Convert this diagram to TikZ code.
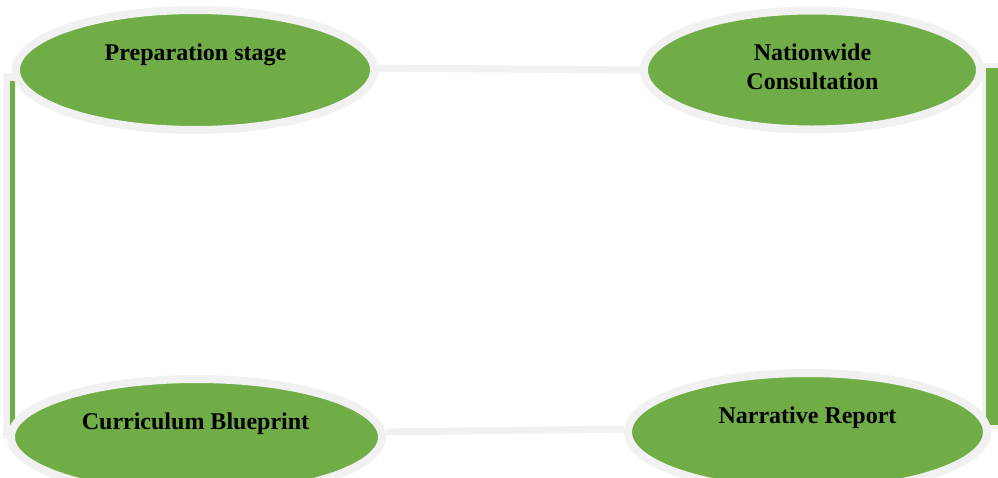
\documentclass[tikz,border=0pt]{standalone}
\usepackage{fontspec}
\setmainfont{Liberation Serif}
\usetikzlibrary{shapes.geometric}
\definecolor{offgreen}{HTML}{70AD47}
\definecolor{rimgray}{HTML}{F1F1F1}
\pgfdeclarelayer{bg}
\pgfsetlayers{bg,main}
\tikzset{
  stage/.style={ellipse, draw=rimgray, line width=8pt, fill=offgreen, inner sep=0pt},
  lbl/.style={anchor=base, font=\bfseries\fontsize{24}{29}\selectfont, text=black, align=center},
  link/.style={draw=rimgray, line width=7pt}
}
\begin{document}
\begin{tikzpicture}[x=1pt, y=-1pt]
\clip (0,0) rectangle (998,477);
% ellipses
\node[stage, minimum width=358pt, minimum height=120pt] (tl) at (195,70) {};
\node[stage, minimum width=336pt, minimum height=119pt] (tr) at (812,70) {};
\node[stage, minimum width=371pt, minimum height=116pt] (bl) at (196.5,437) {};
\node[stage, minimum width=359pt, minimum height=118pt] (br) at (807.5,432) {};
% background, side bars and connectors, behind the ellipses
\begin{pgfonlayer}{bg}
\fill[white] (0,0) rectangle (998,477);
\fill[rimgray] (3,73) rectangle (16,439);
\fill[offgreen] (10,81) rectangle (15,430);
\fill[rimgray] (982,63) rectangle (1005,429);
\fill[offgreen] (985.5,68) rectangle (1005,425);
\path[link] ([yshift=2pt]tl.east) -- (tr.west);
\path[link] ([yshift=5pt]bl.east) -- ([yshift=3pt]br.west);
\end{pgfonlayer}
% labels
\node[lbl] (t1) at (195.5,60.5) {Preparation stage};
\node[lbl] (t2) at (812.5,60) {Nationwide};
\node[lbl] (t3) at (812.5,89) {Consultation};
\node[lbl] (t4) at (195.5,429) {Curriculum Blueprint};
\node[lbl] (t5) at (807.5,423) {Narrative Report};
\end{tikzpicture}
\end{document}
